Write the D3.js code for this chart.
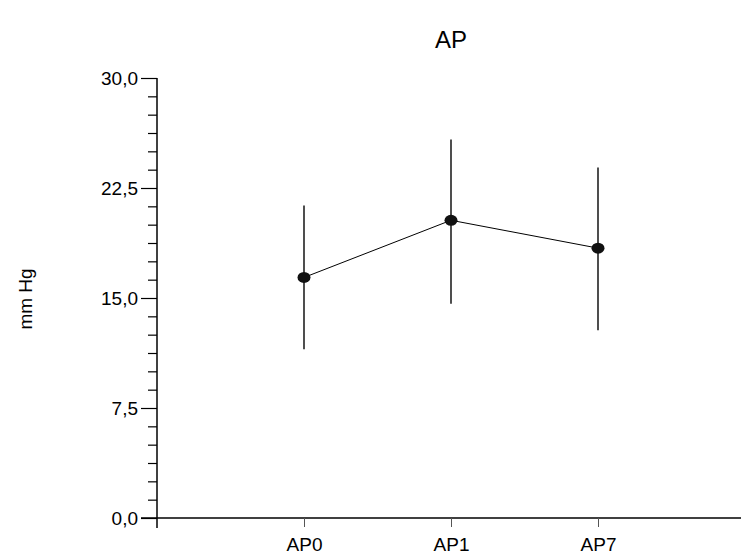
<html>
<head>
<script src="https://d3js.org/d3.v7.min.js"></script>
<style>
  body { margin: 0; background: #fff; }
  text { font-family: "Liberation Sans", Arial, sans-serif; fill: #000; }
</style>
</head>
<body>
<svg id="svg" width="741" height="559"></svg>
<script>
var categories = ["AP0", "AP1", "AP7"];
var means = [16.4, 20.3, 18.4];
var errUp = [21.3, 25.8, 23.9];
var errLow = [11.5, 14.6, 12.8];
var yTicks = [0, 7.5, 15, 22.5, 30];
var yTickLabels = ["0,0", "7,5", "15,0", "22,5", "30,0"];

var svg = d3.select("svg");

var y = d3.scaleLinear().domain([0, 30]).range([518, 78]);
var x = d3.scaleLinear().domain([0, 4]).range([157, 745]);
var xPos = function(i) { return x(i + 1); };

// y axis with minor ticks every 1.25
var minor = d3.range(0, 30.01, 1.25).filter(function(v) { return yTicks.indexOf(v) < 0; });
var yAxisG = svg.append("g").attr("transform", "translate(157,0)");
yAxisG.call(d3.axisLeft(y).tickValues(minor).tickSize(9).tickFormat(""));
yAxisG.select(".domain").remove();
var yMajor = svg.append("g").attr("transform", "translate(157,0)")
    .call(d3.axisLeft(y).tickValues(yTicks).tickSize(16).tickPadding(3)
        .tickFormat(function(d, i) { return yTickLabels[i]; }));
yMajor.select(".domain").remove();
yMajor.selectAll("text").style("font-size", "19px");
svg.selectAll(".tick line").attr("stroke", "#000").attr("stroke-width", 1.2);

svg.append("line").attr("x1", 157).attr("x2", 157).attr("y1", y(30)).attr("y2", 528)
    .attr("stroke", "#000").attr("stroke-width", 1.5);

// x axis
svg.append("line").attr("x1", 141).attr("x2", 741).attr("y1", y(0)).attr("y2", y(0))
    .attr("stroke", "#000").attr("stroke-width", 1.5);
var xAxisG = svg.append("g").attr("transform", "translate(0," + y(0) + ")")
    .call(d3.axisBottom(x).tickValues([1, 2, 3]).tickSize(9).tickPadding(11)
        .tickFormat(function(d) { return categories[d - 1]; }));
xAxisG.select(".domain").remove();
xAxisG.selectAll("text").style("font-size", "19px");
xAxisG.selectAll(".tick line").attr("stroke", "#555");

// error bars
svg.selectAll(".err").data(categories).enter().append("line")
    .attr("x1", function(d, i) { return xPos(i); })
    .attr("x2", function(d, i) { return xPos(i); })
    .attr("y1", function(d, i) { return y(errUp[i]); })
    .attr("y2", function(d, i) { return y(errLow[i]); })
    .attr("stroke", "#222").attr("stroke-width", 1.6);

// mean line
var line = d3.line().x(function(d, i) { return xPos(i); }).y(function(d) { return y(d); });
svg.append("path").attr("d", line(means)).attr("fill", "none")
    .attr("stroke", "#000").attr("stroke-width", 1);

svg.selectAll(".dot").data(means).enter().append("ellipse")
    .attr("cx", function(d, i) { return xPos(i); })
    .attr("cy", function(d) { return y(d); })
    .attr("rx", 6.5).attr("ry", 5.5)
    .attr("fill", "#111");

// title & y label
svg.append("text").attr("x", 451).attr("y", 48).attr("text-anchor", "middle")
    .style("font-size", "24px").text("AP");
svg.append("text").attr("transform", "translate(32,299) rotate(-90)")
    .attr("text-anchor", "middle").style("font-size", "19px").text("mm Hg");
</script>
</body>
</html>
